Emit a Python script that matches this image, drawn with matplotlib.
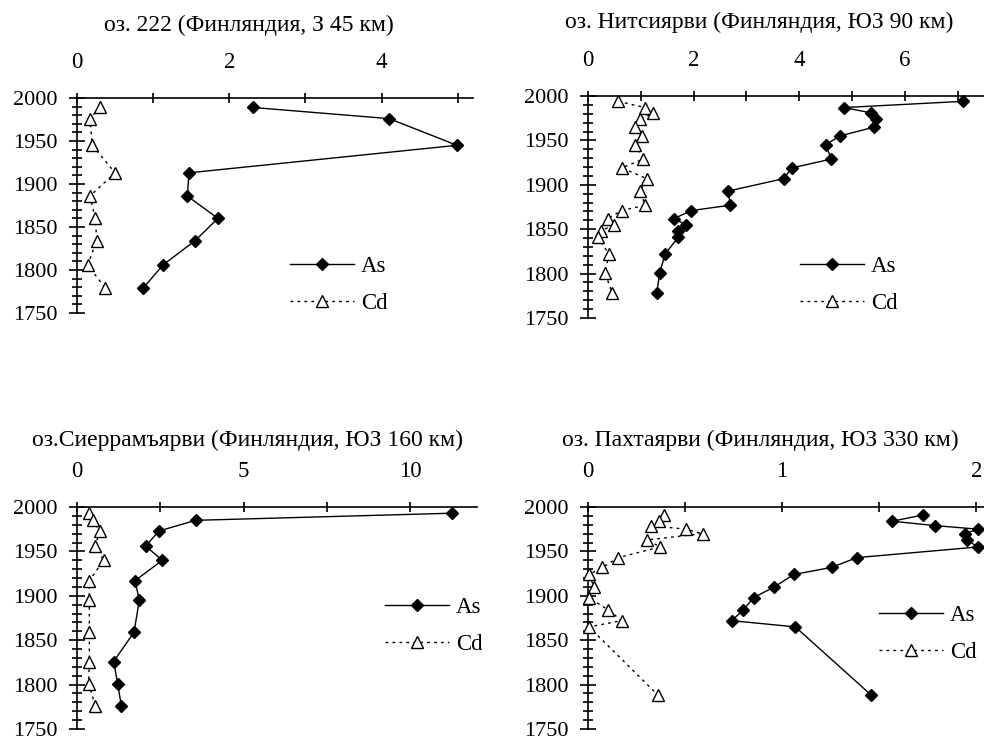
import matplotlib
matplotlib.use("Agg")
from matplotlib import pyplot as plt

plt.rcParams["font.family"] = ["Liberation Serif", "DejaVu Serif"]

# ---- data ----
titles = [
    "оз. 222 (Финляндия, З 45 км)",
    "оз. Нитсиярви (Финляндия, ЮЗ 90 км)",
    "оз.Сиеррамъярви (Финляндия, ЮЗ 160 км)",
    "оз. Пахтаярви (Финляндия, ЮЗ 330 км)",
]

years1 = [1989, 1976, 1945, 1913, 1886, 1860, 1834, 1806, 1779]
as1 = [2.31, 4.10, 4.99, 1.47, 1.45, 1.85, 1.55, 1.13, 0.87]
cd1 = [0.30, 0.17, 0.20, 0.50, 0.17, 0.24, 0.26, 0.14, 0.37]

years2 = [1994, 1987, 1981, 1974, 1965, 1955, 1945, 1929, 1919, 1907,
          1893, 1877, 1871, 1862, 1855, 1848, 1841, 1822, 1801, 1778]
as2 = [7.11, 4.85, 5.36, 5.45, 5.42, 4.77, 4.50, 4.61, 3.86, 3.71,
       2.66, 2.69, 1.96, 1.63, 1.85, 1.71, 1.71, 1.46, 1.36, 1.30]
cd2 = [0.57, 1.08, 1.24, 0.99, 0.89, 1.02, 0.89, 1.05, 0.64, 1.11,
       0.99, 1.08, 0.64, 0.37, 0.49, 0.24, 0.18, 0.40, 0.32, 0.46]

years3 = [1993, 1985, 1973, 1956, 1940, 1917, 1895, 1859, 1826, 1801, 1776]
as3 = [11.24, 3.56, 2.46, 2.06, 2.56, 1.74, 1.87, 1.71, 1.10, 1.22, 1.33]
cd3 = [0.35, 0.47, 0.68, 0.55, 0.80, 0.37, 0.37, 0.37, 0.37, 0.35, 0.55]

years4 = [1991, 1984, 1979, 1975, 1970, 1963, 1955, 1943, 1932, 1924,
          1910, 1898, 1884, 1872, 1865, 1788]
as4 = [1.725, 1.567, 1.79, 2.01, 1.94, 1.95, 2.01, 1.385, 1.255, 1.06,
       0.96, 0.853, 0.80, 0.74, 1.068, 1.46]
cd4 = [0.389, 0.366, 0.327, 0.504, 0.59, 0.306, 0.371, 0.156, 0.074, 0.005,
       0.031, 0.005, 0.105, 0.174, 0.005, 0.361]

xticks = [[0, 1, 2, 3, 4, 5], [0, 1, 2, 3, 4, 5, 6, 7],
          [0, 2.5, 5, 7.5, 10], [0, 0.5, 1, 1.5, 2]]
xticklabels = [["0", "", "2", "", "4", ""], ["0", "", "2", "", "4", "", "6", ""],
               ["0", "", "5", "", "10"], ["0", "", "1", "", "2"]]
yticks = [2000, 1950, 1900, 1850, 1800, 1750]

W, H = 984, 742
FS = 16.5
fig = plt.figure(figsize=(W / 100, H / 100), dpi=100)

# axes boxes in pixels: x0, x1, ytop, ybottom, xmax
boxes = [(77, 473, 98, 313, 5.2), (588, 984, 96, 318, 7.5),
         (77, 477, 507, 729, 12.0), (588, 984, 507, 729, 2.04)]
title_pos = [(249, 25), (759, 22), (247, 440), (760, 440)]
leg_pos = [(290, 285), (800, 285), (385, 626), (879, 634)]

data = [(years1, as1, cd1), (years2, as2, cd2), (years3, as3, cd3), (years4, as4, cd4)]

for i, (yrs, a, c) in enumerate(data):
    x0, x1, yt, yb, xmax = boxes[i]
    ax = fig.add_axes([x0 / W, 1 - yb / H, (x1 - x0) / W, (yb - yt) / H])
    ax.patch.set_visible(False)
    ax.plot(a, yrs, color="black", lw=1.0, marker="D", ms=6.5,
            mfc="black", mec="black", label="As", clip_on=False, zorder=3)
    ax.plot(c, yrs, color="black", lw=1.0, ls=(0, (2, 3)), marker="^", ms=8.5,
            mfc="white", mec="black", mew=1.0, label="Cd", clip_on=False, zorder=3)
    ax.set_xlim(0, xmax)
    ax.set_ylim(1750, 2000)

    for s in ["right", "bottom"]:
        ax.spines[s].set_visible(False)
    ax.spines["left"].set_linewidth(1.2)
    ax.spines["top"].set_linewidth(1.2)

    ax.xaxis.tick_top()
    ax.set_xticks(xticks[i])
    ax.set_xticklabels(xticklabels[i])
    ax.tick_params(axis="x", direction="inout", length=7, width=1.2,
                   pad=14.5, labelsize=FS)
    ax.set_yticks(yticks)
    ax.set_yticks(range(1760, 2000, 10), minor=True)
    ax.tick_params(axis="y", which="major", direction="inout", length=12,
                   width=1.2, pad=8, labelsize=16)
    ax.tick_params(axis="y", which="minor", direction="inout", length=7,
                   width=1.2)

    tx, ty = title_pos[i]
    fig.text(tx / W, 1 - ty / H, titles[i], ha="center", va="center", fontsize=17)

    lx, ly = leg_pos[i]
    ax.legend(loc="center left", bbox_to_anchor=(lx / W, 1 - ly / H),
              bbox_transform=fig.transFigure, frameon=False, fontsize=FS,
              borderpad=0, borderaxespad=0, handlelength=2.8,
              handletextpad=0.3, labelspacing=0.7)

fig.savefig("out.png", dpi=100)
